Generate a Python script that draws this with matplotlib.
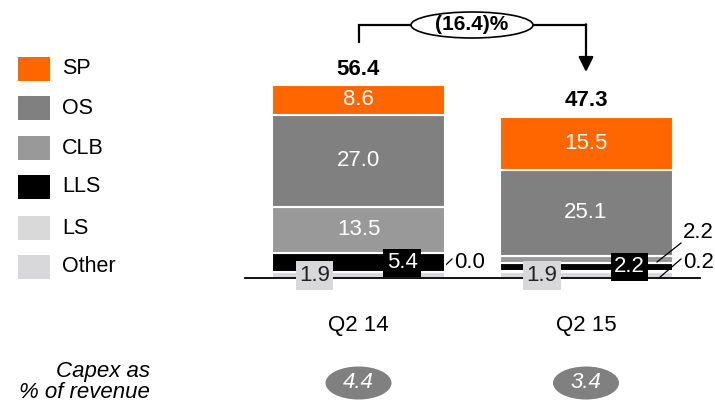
import matplotlib
matplotlib.use("Agg")
import matplotlib.pyplot as plt
from matplotlib.patches import Rectangle, Ellipse
import numpy as np

plt.rcParams['font.family'] = ['Liberation Sans', 'DejaVu Sans']

categories = ["Q2 14", "Q2 15"]
segments = ["Other", "LS", "LLS", "CLB", "OS", "SP"]
values = {
    "Other": [1.9, 1.9],
    "LS": [0.0, 0.2],
    "LLS": [5.4, 2.2],
    "CLB": [13.5, 2.2],
    "OS": [27.0, 25.1],
    "SP": [8.6, 15.5],
}
totals = [56.4, 47.3]
change_label = "(16.4)%"
capex_pct = ["4.4", "3.4"]
legend_order = ["SP", "OS", "CLB", "LLS", "LS", "Other"]
colors = {
    "SP": "#FF6600",
    "OS": "#808080",
    "CLB": "#999999",
    "LLS": "#000000",
    "LS": "#D9D9D9",
    "Other": "#D8D8DA",
}

W, H = 715, 403
fig = plt.figure(figsize=(W / 100, H / 100), dpi=100)
ax = fig.add_axes([0, 0, 1, 1])
ax.axis("off")

# mapping: x=0 -> px 358.5, x=1 -> px 586 ; y=0 -> px 278 from top, 3.42 px/unit
xunit = 227.5
x0px = 358.5
yunit = 3.42
y0px = 278
ax.set_xlim(-x0px / xunit, (W - x0px) / xunit)
ax.set_ylim(-(H - y0px) / yunit, y0px / yunit)

def px(xp):
    return (xp - x0px) / xunit

def py(yp):
    return (y0px - yp) / yunit

xs = np.arange(len(categories))
width = 173 / xunit

# baseline
ax.plot([px(245), px(700)], [0, 0], color="black", lw=1.3, zorder=3)

bottoms = np.zeros(len(categories))
for seg in segments:
    v = np.array(values[seg])
    ax.bar(xs, v, width, bottom=bottoms, color=colors[seg], edgecolor="white",
           linewidth=1.5, zorder=2)
    bottoms = bottoms + v

fs = 16
# inner labels
for i in range(len(categories)):
    b = 0
    cum = {}
    for seg in segments:
        cum[seg] = (b, b + values[seg][i])
        b += values[seg][i]
    for seg in ["SP", "OS"]:
        lo, hi = cum[seg]
        ax.text(xs[i], (lo + hi) / 2, f"{values[seg][i]:.1f}", color="white",
                ha="center", va="center", fontsize=fs, zorder=5)
    if i == 0:
        lo, hi = cum["CLB"]
        ax.text(xs[i], (lo + hi) / 2, f"{values['CLB'][i]:.1f}", color="white",
                ha="center", va="center", fontsize=fs, zorder=5)
    # Other box (left)
    ax.text(px(314.5) + i, py(275.5), f"{values['Other'][i]:.1f}", color="#222222",
            ha="center", va="center", fontsize=fs, zorder=6,
            bbox=dict(boxstyle="square,pad=0.16", fc="#D8D8DA", ec="none"))
    # LLS box (right, black)
    lls_y = py(263) if i == 0 else py(267)
    lls_x = px(402) if i == 0 else px(629.5)
    ax.text(lls_x, lls_y, f"{values['LLS'][i]:.1f}", color="white",
            ha="center", va="center", fontsize=fs, zorder=6,
            bbox=dict(boxstyle="square,pad=0.16", fc="black", ec="none"))

# outside labels with leader lines
ax.plot([px(432), px(452)], [py(278), py(259)], color="black", lw=0.9, zorder=1)
ax.text(px(454), py(262), f"{values['LS'][0]:.1f}", ha="left", va="center", fontsize=fs)
ax.plot([px(657), px(681)], [py(262), py(243)], color="black", lw=0.9, zorder=7)
ax.text(px(683), py(232), f"{values['CLB'][1]:.1f}", ha="left", va="center", fontsize=fs)
ax.plot([px(659), px(681)], [py(278), py(259)], color="black", lw=0.9, zorder=7)
ax.text(px(683), py(262), f"{values['LS'][1]:.1f}", ha="left", va="center", fontsize=fs)

# totals
for i, t in enumerate(totals):
    ax.text(xs[i], t + 4.5, f"{t:.1f}", ha="center", va="center", fontsize=fs,
            fontweight="bold")

# bracket arrow
yb = py(25)
ax.plot([xs[0], xs[0]], [py(43), yb], color="black", lw=1.6, solid_capstyle="butt")
ax.plot([xs[0], xs[1]], [yb, yb], color="black", lw=1.6)
ax.annotate("", xy=(xs[1], py(72)), xytext=(xs[1], yb + 0.2),
            arrowprops=dict(arrowstyle="-|>,head_length=0.9,head_width=0.45",
                            color="black", lw=1.6, shrinkA=0, shrinkB=0))
ax.add_patch(Ellipse((px(472), yb), 122 / xunit, 26 / yunit, fc="white",
                     ec="black", lw=1.2, zorder=4))
ax.text(px(472), yb, change_label, ha="center", va="center", fontsize=15,
        fontweight="bold", zorder=5)

# category labels
for i, c in enumerate(categories):
    ax.text(xs[i], py(326), c, ha="center", va="center", fontsize=fs)

# capex ellipses
ax.text(px(150), py(382), "Capex as\n% of revenue", ha="right", va="center",
        fontsize=fs, style="italic", linespacing=1.05)
for i, p in enumerate(capex_pct):
    ax.add_patch(Ellipse((xs[i], py(383)), 66 / xunit, 33 / yunit,
                         fc="#808080", ec="none"))
    ax.text(xs[i], py(383), p, ha="center", va="center", fontsize=fs,
            style="italic", color="white")

# legend
leg_y = [69, 108, 148, 187, 228, 267]
for name, yy in zip(legend_order, leg_y):
    ax.add_patch(Rectangle((px(18), py(yy + 12)), 32 / xunit, 24 / yunit,
                           fc=colors[name], ec="none"))
    ax.text(px(62), py(yy), name, ha="left", va="center", fontsize=15.5)

fig.savefig("out.png", dpi=100)
